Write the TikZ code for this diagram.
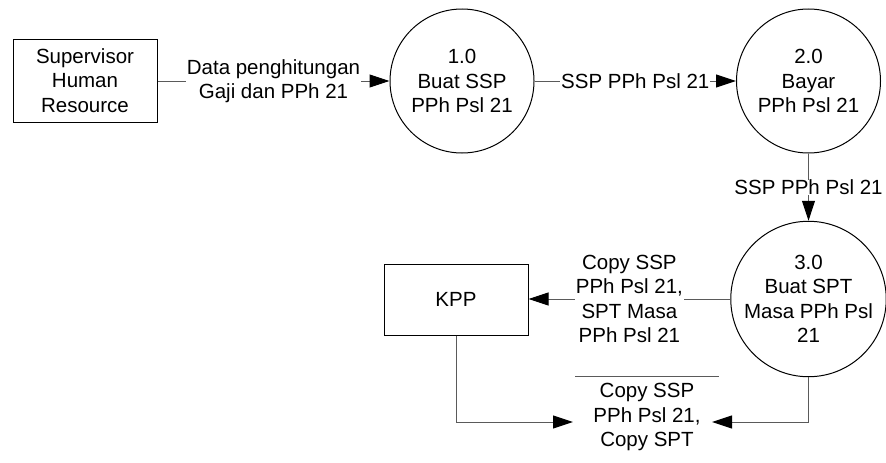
\documentclass[tikz,border=0pt]{standalone}
\usepackage{fontspec}
\setmainfont{Liberation Sans}
\usetikzlibrary{arrows.meta}
\begin{document}
\begin{tikzpicture}[x=1pt,y=-1pt,
  every node/.style={font=\fontsize{20.5}{24.5}\selectfont, align=center},
  entity/.style={draw=black, line width=1pt, rectangle, inner sep=0pt},
  proc/.style={draw=black, line width=1pt, circle, minimum size=144pt, inner sep=0pt},
  flow/.style={draw={rgb,255:red,90;green,90;blue,90}, line width=1pt,
    -{Triangle[length=20pt,width=13pt,color=black]}},
  lbl/.style={fill=white, inner xsep=1pt, inner ysep=0pt},
  storeline/.style={draw={rgb,255:red,90;green,90;blue,90}, line width=1pt}]
\useasboundingbox (0,0) rectangle (886,463);
\node[entity, minimum width=144pt, minimum height=83pt] (sup) at (85,80.5) {Supervisor\\Human\\Resource};
\node[proc] (p1) at (462,81) {1.0\\Buat SSP\\PPh Psl 21};
\node[proc] (p2) at (808.5,81) {2.0\\Bayar\\PPh Psl 21};
\node[proc] (p3) at (808.5,299) {3.0\\Buat SPT\\Masa PPh Psl\\21};
\node[entity, minimum width=144pt, minimum height=71pt] (kpp) at (456,299.5) {KPP};
\node (store) at (647,417) {Copy SSP\\PPh Psl 21,\\Copy SPT};
\coordinate (st1) at (575,376);
\coordinate (st2) at (719,376);
\coordinate (sl) at (573,422);
\coordinate (sr) at (712,422);
\draw[storeline] (st1) -- (st2);
\draw[flow] (sup.east |- p1.west) -- node[lbl]{Data penghitungan\\Gaji dan PPh 21} (p1.west);
\draw[flow] (p1.east) -- node[lbl]{SSP PPh Psl 21} (p2.west);
\draw[flow] (p2.south) -- node[lbl]{SSP PPh Psl 21} (p3.north);
\draw[flow] (p3.west) -- node[lbl, pos=0.5]{Copy SSP\\PPh Psl 21,\\SPT Masa\\PPh Psl 21} (kpp.east |- p3.west);
\draw[flow] (kpp.south) |- (sl);
\draw[flow] (p3.south) |- (sr);
\end{tikzpicture}
\end{document}
